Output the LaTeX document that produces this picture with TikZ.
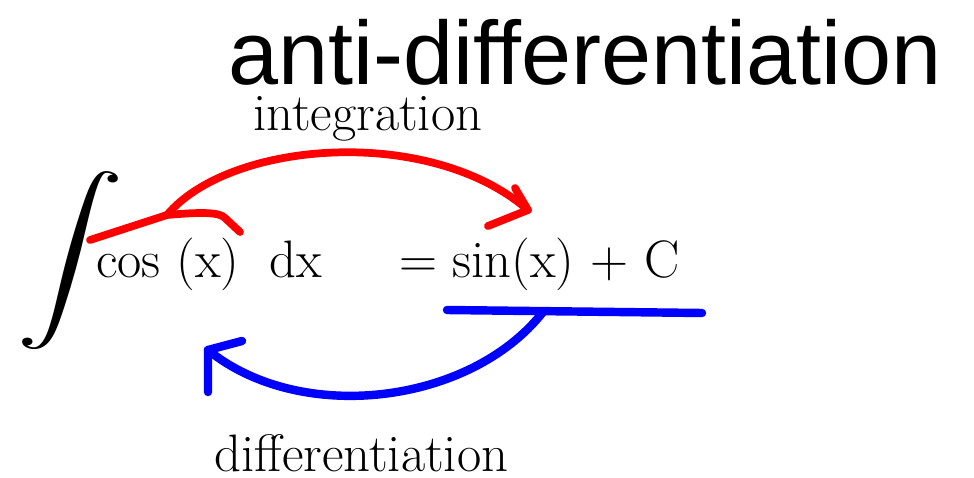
\documentclass[tikz,border=0pt]{standalone}
\usepackage{fontspec}
\newfontfamily\handfont{Liberation Sans}
\begin{document}
\begin{tikzpicture}[x=0.025cm,y=-0.025cm,
  txt/.style={inner sep=0pt,anchor=base west,font=\fontsize{37.5}{44}\selectfont},
  redpen/.style={draw=red,line width=5.5pt,line cap=round,line join=round},
  bluepen/.style={draw=blue,line width=6pt,line cap=round,line join=round}]
\useasboundingbox (0,0) rectangle (974,478);
% integral sign
\node[inner sep=0pt] (int) at (71,261) {\resizebox*{2.7cm}{4.45cm}{$\displaystyle\int$}};
% equation
\node[txt] (cos) at (96,278) {cos (x)};
\node[txt] (dx) at (269,278) {dx};
\node[txt] (eq) at (399,278) {=};
\node[txt] (sin) at (452,278) {sin(x) + C};
% labels
\node[txt] (integ) at (253,131) {integration};
\node[txt] (diff) at (214,471) {differentiation};
\node[inner sep=0pt,anchor=base west,font=\handfont\fontsize{64}{72}\selectfont] (anti) at (228,85) {anti-differentiation};
% red strokes
\coordinate (r0) at (90,240);
\coordinate (rj) at (167,215);
\coordinate (rb1) at (225,218);
\coordinate (rb2) at (240,232);
\coordinate (rtip) at (528,210);
\coordinate (rba) at (515,188);
\coordinate (rbb) at (488,226);
\draw[redpen] (r0) -- (rj) .. controls (200,212) and (220,212) .. (rb1) -- (rb2);
\draw[redpen] (rj) .. controls (230,140) and (430,125) .. (rtip);
\draw[redpen] (rba) -- (rtip) -- (rbb);
% blue strokes
\coordinate (b0) at (447,310);
\coordinate (b1) at (702,313);
\coordinate (bj) at (543,312);
\coordinate (btip) at (208,350);
\coordinate (bba) at (242,341);
\coordinate (bbb) at (208,392);
\draw[bluepen] (b0) -- (b1);
\draw[bluepen] (bj) .. controls (470,405) and (300,425) .. (btip);
\draw[bluepen] (bba) -- (btip) -- (bbb);
\end{tikzpicture}
\end{document}
